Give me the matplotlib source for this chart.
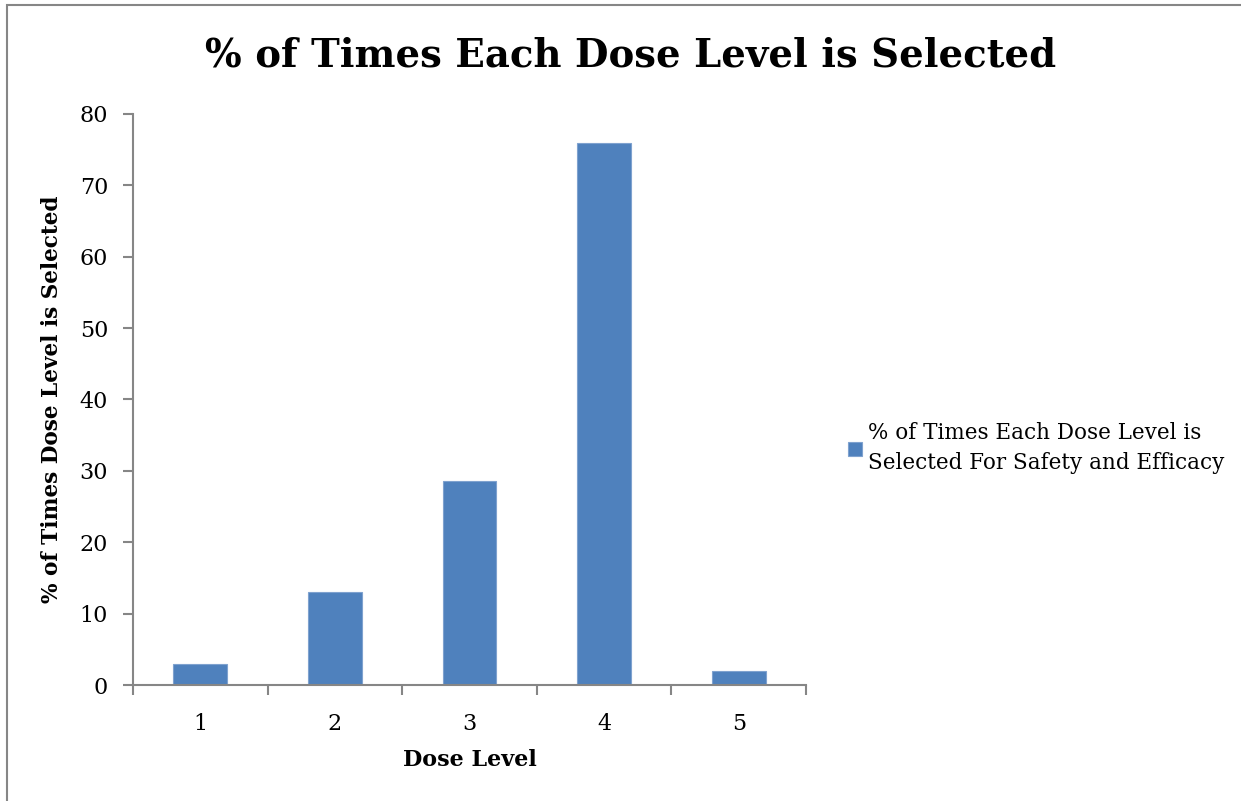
import matplotlib.pyplot as plt
from matplotlib.patches import Rectangle
import numpy as np

dose_levels = ["1", "2", "3", "4", "5"]
pct_selected = [2.9, 13.0, 28.6, 76.0, 2.0]
series_name = "% of Times Each Dose Level is\nSelected For Safety and Efficacy"

plt.rcParams['font.family'] = ['DejaVu Serif']
grey = '#868686'

fig = plt.figure(figsize=(12.41, 8.01), dpi=100)
ax = fig.add_axes([0.1072, 0.1448, 0.5423, 0.7129])

x = np.arange(1, len(dose_levels) + 1)
ax.bar(x, pct_selected, width=0.4, color='#4F81BD', edgecolor='#7FA2CF',
       linewidth=0.8, label=series_name)

ax.set_xlim(0.5, len(dose_levels) + 0.5)
ax.set_ylim(0, 80)
ax.set_yticks(np.arange(0, 81, 10))
ax.set_xticks(x)
ax.set_xticklabels(dose_levels)
# category boundary ticks, as in spreadsheet charts
ax.set_xticks(np.arange(0.5, len(dose_levels) + 1, 1), minor=True)
ax.tick_params(axis='x', which='major', length=0, pad=20, labelsize=16)
ax.tick_params(axis='x', which='minor', length=7, color=grey, width=1.5)
ax.tick_params(axis='y', length=7, color=grey, width=1.5, labelsize=16, pad=11)

for side in ('top', 'right'):
    ax.spines[side].set_visible(False)
for side in ('left', 'bottom'):
    ax.spines[side].set_color(grey)
    ax.spines[side].set_linewidth(1.5)

ax.set_xlabel("Dose Level", fontsize=16, fontweight='bold', labelpad=10)
ax.set_ylabel("% of Times Dose Level is Selected", fontsize=15.6, fontweight='bold', labelpad=12)
fig.text(0.508, 0.931, "% of Times Each Dose Level is Selected", ha='center', va='center',
         fontsize=27.8, fontweight='bold')

leg = ax.legend(loc='center left', bbox_to_anchor=(1.033, 0.415), frameon=False, fontsize=15.5,
                handlelength=0.65, handleheight=0.65, handletextpad=0.3)
for t in leg.get_texts():
    t.set_linespacing(1.5)

# outer chart border
fig.add_artist(Rectangle((0.0056, -0.01), 1.2, 1.0038, transform=fig.transFigure,
                         fill=False, edgecolor=grey, linewidth=1.5))

fig.savefig('out.png', dpi=100)
